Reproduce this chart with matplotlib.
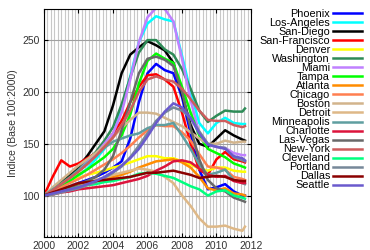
import numpy as np
import matplotlib
matplotlib.use("Agg")
import matplotlib.pyplot as plt

# half-year sampling, last point = last month available
years = [2000, 2000.5, 2001, 2001.5, 2002, 2002.5, 2003, 2003.5, 2004, 2004.5,
         2005, 2005.5, 2006, 2006.5, 2007, 2007.5, 2008, 2008.5, 2009, 2009.5,
         2010, 2010.5, 2011, 2011.5, 2011.65]

cities = ["Phoenix", "Los-Angeles", "San-Diego", "San-Francisco", "Denver",
          "Washington", "Miami", "Tampa", "Atlanta", "Chicago", "Boston",
          "Detroit", "Minneapolis", "Charlotte", "Las-Vegas", "New-York",
          "Cleveland", "Portland", "Dallas", "Seattle"]

colors = ["#0000ff", "#00ffff", "#000000", "#ff0000", "#ffff00",
          "#2e8b57", "#c080ff", "#00ff00", "#ff8c00", "#ff7f50",
          "#d2b48c", "#deb887", "#5f9ea0", "#dc143c", "#696969",
          "#cd5c5c", "#00ff7f", "#778899", "#8b0000", "#6a5acd"]

phoenix = [100, 103, 106, 109, 112, 115, 118, 122, 127, 133, 155, 190, 218, 227, 221, 218, 195, 160, 125, 106, 108, 111, 104, 100, 100]
los_angeles = [100, 104, 109, 113, 119, 126, 135, 145, 158, 185, 215, 248, 266, 273, 270, 268, 235, 200, 170, 160, 170, 175, 170, 169, 169]
san_diego = [100, 107, 113, 120, 128, 138, 150, 162, 187, 218, 236, 243, 249, 245, 240, 228, 198, 168, 150, 147, 155, 163, 158, 154, 153]
san_francisco = [100, 118, 134, 128, 131, 136, 141, 147, 160, 172, 190, 205, 216, 217, 212, 205, 180, 150, 125, 120, 135, 142, 135, 133, 132]
denver = [100, 105, 110, 114, 117, 120, 122, 124, 127, 129, 132, 135, 138, 138, 136, 136, 133, 130, 126, 124, 127, 127, 124, 123, 123]
washington = [100, 106, 112, 118, 125, 133, 142, 153, 166, 188, 214, 238, 250, 250, 241, 236, 222, 203, 182, 171, 177, 182, 181, 181, 184]
miami = [100, 105, 111, 117, 124, 132, 140, 150, 160, 180, 212, 248, 272, 281, 280, 268, 232, 192, 160, 149, 147, 146, 141, 139, 139]
tampa = [100, 105, 110, 114, 120, 125, 131, 137, 145, 158, 178, 208, 230, 237, 232, 228, 205, 180, 158, 145, 141, 137, 131, 128, 127]
atlanta = [100, 103, 105, 107, 110, 112, 114, 116, 118, 120, 123, 127, 130, 133, 134, 135, 132, 127, 118, 107, 105, 107, 102, 101, 100]
chicago = [100, 104, 108, 112, 116, 120, 125, 130, 135, 141, 148, 156, 163, 168, 167, 167, 161, 153, 140, 128, 127, 125, 118, 116, 115]
boston = [100, 108, 115, 122, 129, 135, 141, 148, 156, 165, 173, 180, 180, 179, 175, 171, 167, 161, 155, 150, 150, 153, 151, 152, 152]
detroit = [100, 103, 106, 109, 111, 113, 115, 117, 120, 122, 124, 126, 125, 123, 118, 112, 100, 90, 78, 70, 70, 71, 68, 66, 70]
minneapolis = [100, 106, 111, 117, 124, 131, 138, 146, 152, 155, 158, 160, 165, 168, 168, 170, 158, 145, 130, 120, 122, 125, 115, 112, 111]
charlotte = [100, 101, 103, 104, 106, 107, 108, 109, 110, 112, 114, 116, 119, 124, 128, 133, 134, 132, 126, 120, 118, 119, 114, 112, 112]
las_vegas = [100, 102, 105, 108, 111, 114, 118, 125, 138, 163, 190, 218, 232, 234, 231, 225, 200, 165, 135, 115, 107, 104, 98, 95, 94]
new_york = [100, 105, 111, 117, 123, 130, 138, 147, 156, 168, 182, 200, 212, 215, 212, 210, 203, 193, 182, 173, 172, 172, 168, 166, 167]
cleveland = [100, 102, 104, 106, 108, 110, 111, 113, 114, 116, 118, 121, 122, 121, 119, 117, 113, 109, 106, 100, 104, 105, 100, 98, 97]
portland = [100, 101, 103, 105, 107, 110, 113, 117, 122, 128, 137, 148, 160, 172, 180, 185, 182, 175, 162, 150, 147, 146, 137, 134, 133]
dallas = [100, 103, 106, 109, 112, 113, 114, 115, 116, 117, 118, 120, 122, 122, 123, 124, 122, 120, 117, 118, 119, 118, 115, 114, 114]
seattle = [100, 102, 104, 106, 108, 111, 114, 118, 123, 129, 136, 145, 157, 170, 181, 189, 185, 175, 160, 149, 147, 145, 138, 136, 134]

series = [phoenix, los_angeles, san_diego, san_francisco, denver,
          washington, miami, tampa, atlanta, chicago, boston,
          detroit, minneapolis, charlotte, las_vegas, new_york,
          cleveland, portland, dallas, seattle]

plt.rcParams["font.family"] = ["Liberation Sans", "DejaVu Sans"]

fig = plt.figure(figsize=(3.7, 2.5), dpi=100)
ax = fig.add_axes([44 / 370, 13 / 250, 207 / 370, 228 / 250])

for name, vals, c in zip(cities, series, colors):
    ax.plot(years, vals, color=c, lw=1.8, label=name, solid_joinstyle="round")

ax.set_xlim(2000, 2012)
ax.set_ylim(60, 280)
ax.set_xticks(np.arange(2000, 2013, 2))
ax.set_xticks(np.arange(2000, 2012.01, 0.2), minor=True)
ax.set_yticks([100, 150, 200, 250])
ax.grid(which="both", axis="x", color="#c8c8c8", lw=0.8)
ax.grid(which="major", axis="y", color="#a0a0a0", lw=0.8)
ax.set_axisbelow(True)
ax.tick_params(direction="in", labelsize=7.5, length=3, pad=3, colors="#000000",
               labelcolor="#333333", top=True, right=True)
ax.tick_params(which="minor", direction="in", length=1.5)
for s in ax.spines.values():
    s.set_linewidth(0.8)
ax.set_ylabel("Indice (Base 100:2000)", fontsize=7.5, color="#333333", labelpad=3)

fig.legend(loc="upper right", bbox_to_anchor=(362 / 370, 1 - 9 / 250),
           frameon=False, markerfirst=False, fontsize=7.8, handlelength=2.7,
           handletextpad=0.25, labelspacing=-0.09, borderpad=0, borderaxespad=0)

fig.savefig("out.png", dpi=100)
